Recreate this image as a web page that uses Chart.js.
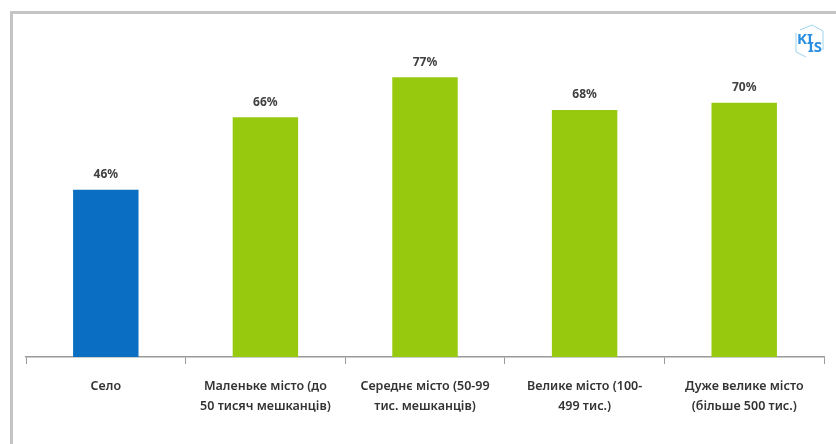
<!DOCTYPE html>
<html>
<head>
<meta charset="utf-8">
<script src="https://cdn.jsdelivr.net/npm/chart.js@4.4.0/dist/chart.umd.min.js"></script>
<style>
    html, body { margin: 0; padding: 0; background: #fff; }
    #wrap { width: 836px; height: 444px; position: relative; }
</style>
</head>
<body>
<div id="wrap"><canvas id="settlementChart"></canvas></div>
<script>
// Categories (type of settlement)
const categories = [
    'Село',
    ['Маленьке місто (до', '50 тисяч мешканців)'],
    ['Середнє місто (50-99', 'тис. мешканців)'],
    ['Велике місто (100-', '499 тис.)'],
    ['Дуже велике місто', '(більше 500 тис.)']
];

// Share, %
const shares = [46, 66, 77, 68, 70];
const barColors = ['#0a6fc2', '#97c90f', '#97c90f', '#97c90f', '#97c90f'];

const FONT = '"Noto Sans", "DejaVu Sans", sans-serif';

// Value labels above bars
const valueLabels = {
    id: 'valueLabels',
    afterDatasetsDraw(chart) {
        const ctx = chart.ctx;
        const meta = chart.getDatasetMeta(0);
        ctx.save();
        ctx.font = 'bold 12px ' + FONT;
        ctx.fillStyle = '#404040';
        ctx.textAlign = 'center';
        ctx.textBaseline = 'bottom';
        meta.data.forEach((bar, i) => {
            ctx.fillText(shares[i] + '%', bar.x, bar.y - 9);
        });
        ctx.restore();
    }
};

// Frame and logo
const frameAndLogo = {
    id: 'frameAndLogo',
    beforeDraw(chart) {
        const ctx = chart.ctx;
        ctx.save();
        ctx.fillStyle = '#fff';
        ctx.fillRect(0, 0, chart.width, chart.height);
        ctx.strokeStyle = '#c4c4c4';
        ctx.lineWidth = 3;
        ctx.strokeRect(11.5, 12.5, chart.width + 10, chart.height + 10);
        ctx.restore();
    },
    afterDraw(chart) {
        const ctx = chart.ctx;
        ctx.save();
        ctx.fillStyle = '#2a8fe0';
        ctx.font = 'bold 15px ' + FONT;
        ctx.textBaseline = 'alphabetic';
        ctx.fillText('KI', 797, 44);
        ctx.fillText('IS', 808, 52);
        ctx.strokeStyle = '#9fd4f0';
        ctx.lineWidth = 1;
        ctx.beginPath();
        ctx.moveTo(800, 30); ctx.lineTo(812, 25); ctx.lineTo(823, 31);
        ctx.lineTo(823, 50); ctx.moveTo(796, 33); ctx.lineTo(796, 52); ctx.lineTo(806, 57);
        ctx.stroke();
        ctx.restore();
    }
};

document.addEventListener('DOMContentLoaded', function() {
    const ctx = document.getElementById('settlementChart');
    new Chart(ctx, {
        type: 'bar',
        data: {
            labels: categories,
            datasets: [{
                data: shares,
                backgroundColor: barColors,
                borderWidth: 0,
                categoryPercentage: 1,
                barPercentage: 0.41
            }]
        },
        options: {
            responsive: true,
            maintainAspectRatio: false,
            animation: false,
            layout: {
                padding: { left: 26, right: 12, top: 30, bottom: 16 }
            },
            plugins: {
                legend: { display: false },
                tooltip: { enabled: false }
            },
            scales: {
                y: {
                    display: false,
                    min: 0,
                    max: 90
                },
                x: {
                    grid: {
                        offset: true,
                        drawOnChartArea: false,
                        drawTicks: true,
                        tickLength: 7,
                        tickWidth: 1,
                        tickColor: '#9a9a9a'
                    },
                    border: { color: '#9a9a9a', width: 1.5 },
                    ticks: {
                        color: '#333',
                        padding: 12,
                        maxRotation: 0,
                        autoSkip: false,
                        font: { family: FONT, size: 12.5, weight: '600', lineHeight: 1.6 }
                    }
                }
            }
        },
        plugins: [frameAndLogo, valueLabels]
    });
});
</script>
</body>
</html>
